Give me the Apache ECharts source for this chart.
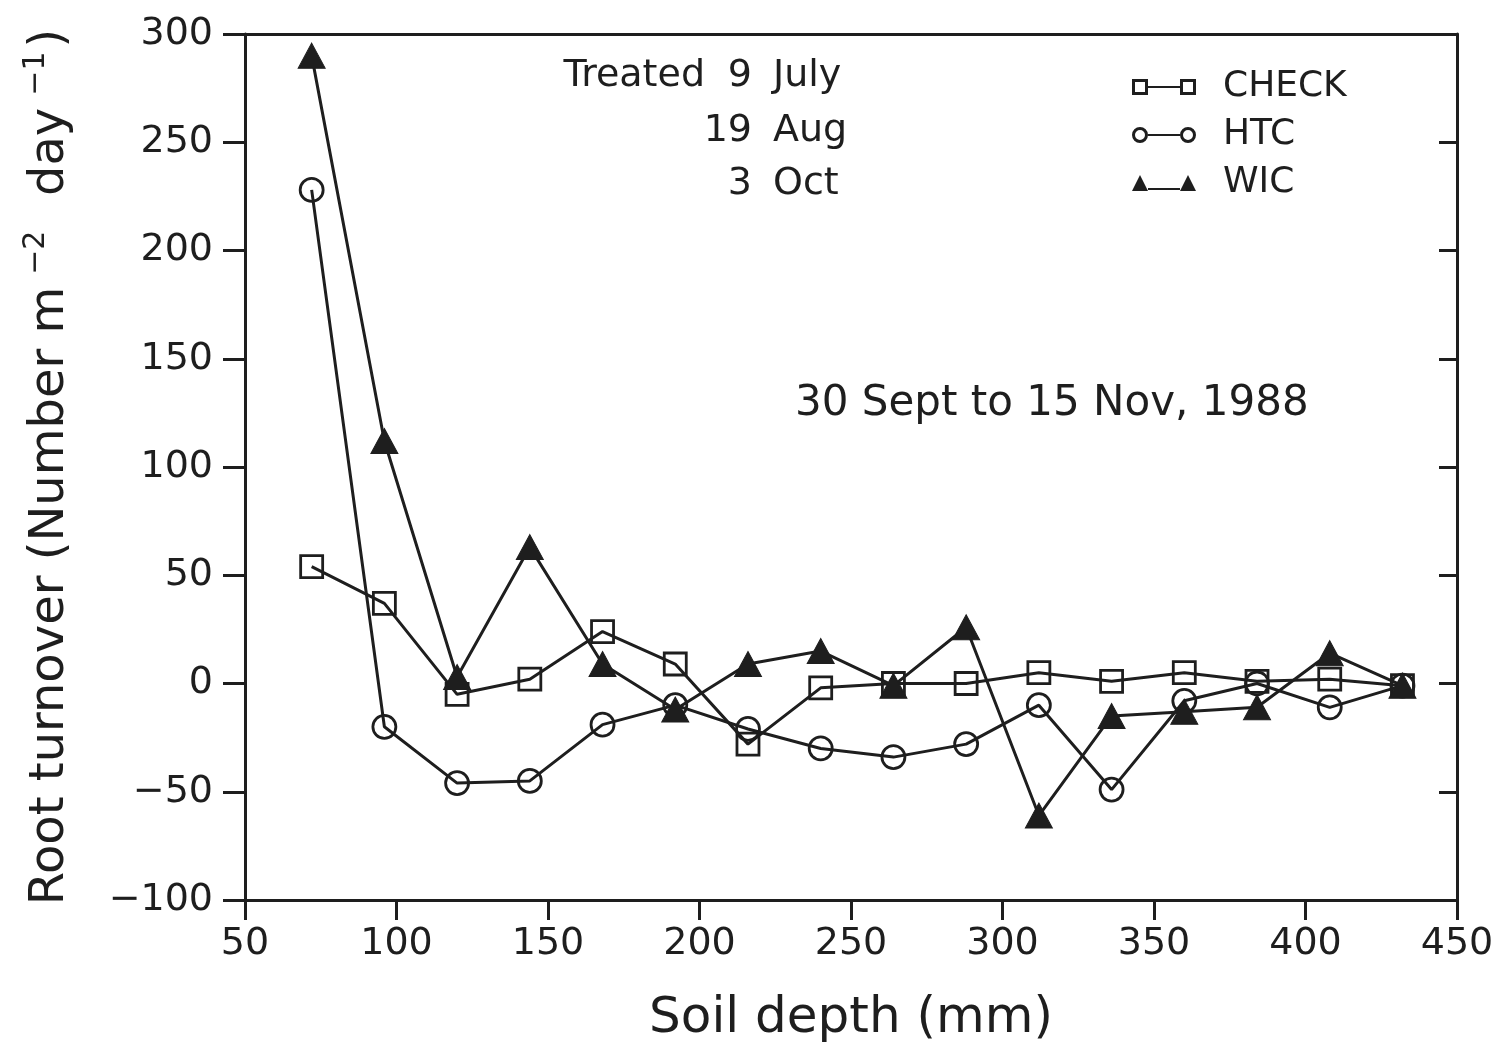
<!DOCTYPE html>
<html>
<head>
<meta charset="utf-8">
<script src="https://cdn.jsdelivr.net/npm/echarts@6/dist/echarts.min.js"></script>
<style>html,body{margin:0;padding:0;background:#fff;}#c{width:1500px;height:1051px;}</style>
</head>
<body>
<div id="c"></div>
<script>
// Soil depth (mm)
const depth = [72, 96, 120, 144, 168, 192, 216, 240, 264, 288, 312, 336, 360, 384, 408, 432];
// Root turnover (Number m-2 day-1)
const checkVals = [54, 37, -5, 2, 24, 9, -28, -2, 0, 0, 5, 1, 5, 1, 2, -1];
const htcVals   = [228, -20, -46, -45, -19, -10, -21, -30, -34, -28, -10, -49, -8, 0, -11, -1];
const wicVals   = [290, 112, 3, 63, 9, -12, 9, 15, -1, 26, -61, -15, -13, -11, 14, -1];
const seriesNames = ['CHECK', 'HTC', 'WIC'];
const xTicks = [50, 100, 150, 200, 250, 300, 350, 400, 450];
const yTicks = [-100, -50, 0, 50, 100, 150, 200, 250, 300];

const INK = '#1e1e1e';
const FONT = 'DejaVu Sans';

function pairs(vals) { return depth.map((d, i) => [d, vals[i]]); }

const sqIcon = 'path://M0,2 L16,2 L16,18 L0,18 Z M3,5 L3,15 L13,15 L13,5 Z M16,9 L48,9 L48,11 L16,11 Z M48,2 L64,2 L64,18 L48,18 Z M51,5 L51,15 L61,15 L61,5 Z';
const ciIcon = 'path://M0,10 A8,8 0 1,1 16,10 A8,8 0 1,1 0,10 Z M3,10 A5,5 0 1,0 13,10 A5,5 0 1,0 3,10 Z M16,9 L48,9 L48,11 L16,11 Z M48,10 A8,8 0 1,1 64,10 A8,8 0 1,1 48,10 Z M51,10 A5,5 0 1,0 61,10 A5,5 0 1,0 51,10 Z';
const trIcon = 'path://M0,18 L8,2 L16,18 Z M16,15 L48,15 L48,17 L16,17 Z M48,18 L56,2 L64,18 Z';

const chart = echarts.init(document.getElementById('c'), null, {renderer: 'canvas'});
const minus = v => String(v).replace('-', '\u2212');

const lineCommon = {
  type: 'line',
  lineStyle: {color: INK, width: 3},
  emphasis: {disabled: true},
  animation: false,
  z: 3
};

const txt = (text, x, y, align, size) => ({
  type: 'text', x: x, y: y,
  style: {text: text, font: (size || 38) + 'px "DejaVu Sans"', fill: INK,
          align: align, verticalAlign: 'middle', textAlign: align, textVerticalAlign: 'middle'}
});

chart.setOption({
  backgroundColor: '#fff',
  animation: false,
  grid: {left: 245, right: 43, top: 34, bottom: 151, containLabel: false},
  xAxis: [{
    type: 'value', min: xTicks[0], max: xTicks[xTicks.length - 1], interval: 50,
    position: 'bottom',
    name: 'Soil depth (mm)', nameLocation: 'middle', nameGap: 94,
    nameTextStyle: {fontFamily: FONT, fontSize: 50, color: INK},
    axisLine: {show: true, onZero: false, lineStyle: {color: INK, width: 3}},
    axisTick: {show: true, inside: false, length: 20, lineStyle: {color: INK, width: 3}},
    axisLabel: {show: true, margin: 25, fontFamily: FONT, fontSize: 38, color: INK},
    splitLine: {show: false}
  }, {
    type: 'value', min: xTicks[0], max: xTicks[xTicks.length - 1], interval: 50,
    position: 'top',
    axisLine: {show: true, onZero: false, lineStyle: {color: INK, width: 3}},
    axisTick: {show: false}, axisLabel: {show: false}, splitLine: {show: false}
  }],
  yAxis: [{
    type: 'value', min: yTicks[0], max: yTicks[yTicks.length - 1], interval: 50,
    position: 'left',
    name: 'Root turnover (Number m{sup|\u22122}  day{sup|\u22121})',
    nameLocation: 'middle', nameGap: 164, nameRotate: 90,
    nameTextStyle: {
      fontFamily: FONT, fontSize: 48, color: INK, lineHeight: 60,
      rich: {sup: {fontFamily: FONT, fontSize: 30, color: INK, verticalAlign: 'top', lineHeight: 34, padding: [0, 4, 0, 12]}}
    },
    axisLine: {show: true, onZero: false, lineStyle: {color: INK, width: 3}},
    axisTick: {show: true, inside: false, length: 22, lineStyle: {color: INK, width: 3}},
    axisLabel: {show: true, margin: 32, fontFamily: FONT, fontSize: 38, color: INK, formatter: minus},
    splitLine: {show: false}
  }, {
    type: 'value', min: yTicks[0], max: yTicks[yTicks.length - 1], interval: 50,
    position: 'right',
    axisLine: {show: true, onZero: false, lineStyle: {color: INK, width: 3}},
    axisTick: {show: true, inside: true, length: 18, lineStyle: {color: INK, width: 3}},
    axisLabel: {show: false}, splitLine: {show: false}
  }],
  legend: {
    orient: 'vertical', left: 1127, top: 62,
    itemWidth: 64, itemHeight: 20, itemGap: 8,
    textStyle: {fontFamily: FONT, fontSize: 36, color: INK, lineHeight: 40, padding: [0, 0, 0, 22]},
    selectedMode: false,
    data: [
      {name: seriesNames[0], icon: sqIcon, itemStyle: {color: INK, borderWidth: 0}},
      {name: seriesNames[1], icon: ciIcon, itemStyle: {color: INK, borderWidth: 0}},
      {name: seriesNames[2], icon: trIcon, itemStyle: {color: INK, borderWidth: 0}}
    ]
  },
  graphic: [
    txt('Treated', 705, 76, 'right'),
    txt('9', 752, 76, 'right'),
    txt('July', 773, 76, 'left'),
    txt('19', 752, 131, 'right'),
    txt('Aug', 773, 131, 'left'),
    txt('3', 752, 184, 'right'),
    txt('Oct', 773, 184, 'left'),
    txt('30 Sept to 15 Nov, 1988', 795, 404, 'left', 42)
  ],
  series: [
    Object.assign({}, lineCommon, {
      name: seriesNames[0], data: pairs(checkVals),
      symbol: 'rect', symbolSize: 22, showAllSymbol: true,
      itemStyle: {color: 'rgba(255,255,255,0)', borderColor: INK, borderWidth: 2.8}
    }),
    Object.assign({}, lineCommon, {
      name: seriesNames[1], data: pairs(htcVals),
      symbol: 'circle', symbolSize: 23, showAllSymbol: true,
      itemStyle: {color: 'rgba(255,255,255,0)', borderColor: INK, borderWidth: 2.8}
    }),
    Object.assign({}, lineCommon, {
      name: seriesNames[2], data: pairs(wicVals),
      symbol: 'triangle', symbolSize: [27, 25], showAllSymbol: true,
      itemStyle: {color: INK, borderColor: INK, borderWidth: 1}
    })
  ]
});
</script>
</body>
</html>
